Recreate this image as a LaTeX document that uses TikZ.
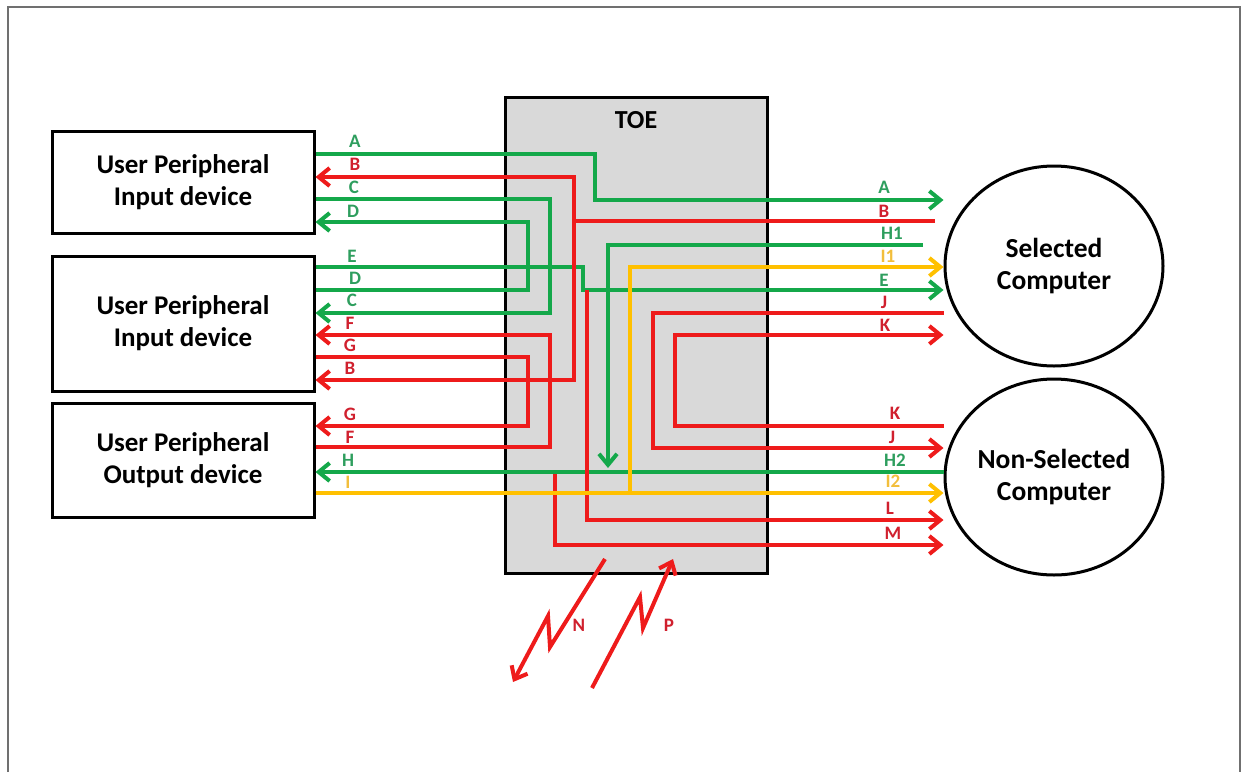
\documentclass[tikz,border=0pt]{standalone}
\usepackage{fontspec}
\setmainfont{Carlito}
\usetikzlibrary{arrows.meta, positioning, shapes.geometric}
\definecolor{framegray}{HTML}{707070}
\definecolor{toegray}{HTML}{D9D9D9}
\definecolor{wgreen}{HTML}{14A84A}
\definecolor{wred}{HTML}{EE1B1B}
\definecolor{wyellow}{HTML}{FFC000}
\definecolor{lgreen}{HTML}{2E9E5E}
\definecolor{lred}{HTML}{D0202E}
\definecolor{lyellow}{HTML}{F2BE3C}
\tikzset{
  devbox/.style={
    rectangle, draw=black, fill=white, line width=3pt,
    minimum width=262pt, align=center,
    font=\bfseries\fontsize{27}{32}\selectfont
  },
  pcnode/.style={
    ellipse, draw=black, fill=white, line width=3pt, inner sep=0pt,
    minimum width=218pt, minimum height=200pt, align=center,
    font=\bfseries\fontsize{27.5}{32}\selectfont
  },
  toebox/.style={
    rectangle, draw=black, fill=toegray, line width=3pt,
    minimum width=262pt, minimum height=476pt
  },
  wire/.style={line width=4pt},
  gwire/.style={wire, draw=wgreen},
  rwire/.style={wire, draw=wred},
  ywire/.style={wire, draw=wyellow},
  arr/.style={-{Straight Barb[length=11pt, width=18pt]}},
  lab/.style={font=\bfseries\fontsize{19}{19}\selectfont, inner sep=0pt},
}

\begin{document}
\begin{tikzpicture}[x=1pt, y=-1pt]
  \useasboundingbox (0,0) rectangle (1243,772);
  \draw[framegray, line width=2.5pt] (8,772) |- (1240,7) -- (1240,772);

  % devices and computers
  \node[devbox, minimum height=102pt] (in1) at (183,182) {User Peripheral\\Input device};
  \node[devbox, minimum height=135pt, below=20pt of in1] (in2) {User Peripheral\\Input device};
  \node[devbox, minimum height=114pt, below=9pt of in2] (out) {User Peripheral\\Output device};
  \node[toebox] (toe) at (636,335) {};
  \node[font=\bfseries\fontsize{26}{26}\selectfont] (toelbl) at (636,120) {TOE};
  \node[pcnode] (sel) at (1054,266) {Selected\\Computer};
  \node[pcnode, minimum height=196pt] (nsel) at (1054,477) {Non-Selected\\Computer};

  % free ends
  \coordinate (Bsrc) at (935,221);
  \coordinate (H1src) at (923,245);
  \coordinate (Bfork) at (574,221);
  \coordinate (Lsrc) at (587,290);
  \coordinate (Ifork) at (630,493);
  \coordinate (Msrc) at (555,474);
  \coordinate (Nsrc) at (605,559);
  \coordinate (Ndst) at (513,682);
  \coordinate (Psrc) at (592,688);
  \coordinate (Pdst) at (673,559);

  % green wires
  \draw[gwire, arr] (in1.east |- 0,154) -| (595,200) -- (sel.west |- 0,200);
  \draw[gwire, arr] (in1.east |- 0,199) -| (550,313) -- (in2.east |- 0,313);
  \draw[gwire, arr] (in2.east |- 0,290) -| (528,222) -- (in1.east |- 0,222);
  \draw[gwire, arr] (in2.east |- 0,267) -| (583,290) -- (sel.west |- 0,290);
  \draw[gwire, arr] (H1src) -| (608,468);
  \draw[gwire, arr] (nsel.west |- 0,472) -- (out.east |- 0,472);

  % red wires
  \draw[rwire, arr] (Bsrc) -| (574,177) -- (in1.east |- 0,177);
  \draw[rwire, arr] (Bfork) |- (in2.east |- 0,380);
  \draw[rwire, arr] (out.east |- 0,447) -| (550,335) -- (in2.east |- 0,335);
  \draw[rwire, arr] (in2.east |- 0,357) -| (528,426) -- (out.east |- 0,426);
  \draw[rwire, arr] (sel.west |- 0,313) -| (653,448) -- (nsel.west |- 0,448);
  \draw[rwire, arr] (nsel.west |- 0,426) -| (675,335) -- (sel.west |- 0,335);
  \draw[rwire, arr] (Lsrc) |- (nsel.west |- 0,520);
  \draw[rwire, arr] (Msrc) |- (nsel.west |- 0,545);

  % yellow wires
  \draw[ywire, arr] (out.east |- 0,493) -- (nsel.west |- 0,493);
  \draw[ywire, arr] (Ifork) |- (sel.west |- 0,267);

  % wireless links
  \draw[rwire, arr] (Nsrc) -- (550,647) -- (548,616) -- (Ndst);
  \draw[rwire, arr] (Psrc) -- (640,597) -- (643,628) -- (Pdst);

  % labels
  \foreach \n/\x/\y/\t in {a1/355/141/A, c1/354/187/C, d1/353/211/D, e1/352/256/E, d2/355/278/D, c2/352/300/C, h1/348/460/H,
      a2/884/187/A, h2/892/233/H1, e2/884/280/E, h3/895/460/H2}
    \node[lab, text=lgreen] (l\n) at (\x,\y) {\t};
  \foreach \n/\x/\y/\t in {b1/355/164/B, f1/350/323/F, g1/350/345/G, b2/350/368/B, g2/350/414/G, f2/350/437/F,
      b3/884/211/B, j1/884/302/J, k1/885/325/K, k2/895/413/K, j2/892/437/J, l1/890/508/L, m1/893/533/M, n1/579/625/N, p1/669/625/P}
    \node[lab, text=lred] (l\n) at (\x,\y) {\t};
  \foreach \n/\x/\y/\t in {i1/348/482/I, i2/888/256/I1, i3/893/481/I2}
    \node[lab, text=lyellow] (l\n) at (\x,\y) {\t};
\end{tikzpicture}
\end{document}
